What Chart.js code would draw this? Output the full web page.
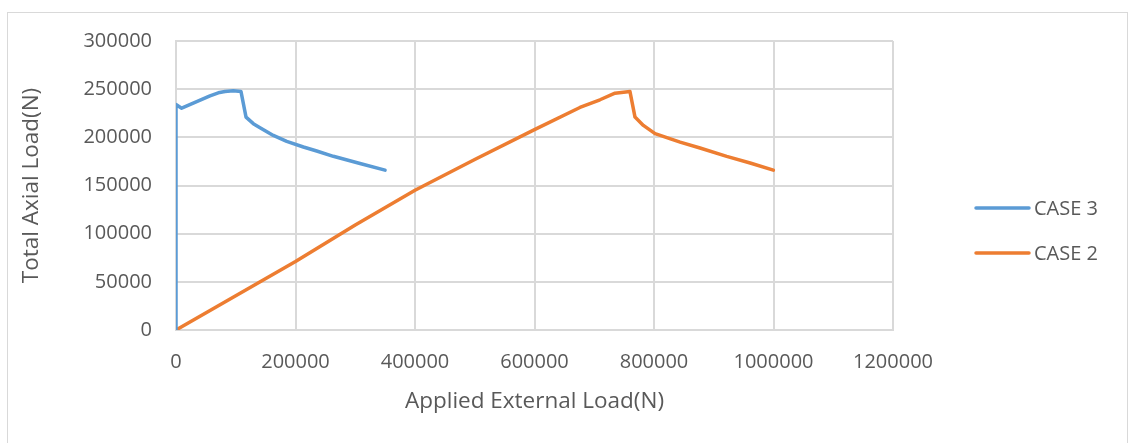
<!DOCTYPE html>
<html>
<head>
<meta charset="utf-8">
<script src="https://cdn.jsdelivr.net/npm/chart.js@4/dist/chart.umd.min.js"></script>
<style>
  html, body { margin: 0; padding: 0; background: #ffffff; }
  #wrap { width: 1130px; height: 443px; }
</style>
</head>
<body>
<div id="wrap"><canvas id="c" width="1130" height="443"></canvas></div>
<script>
// Applied external load (N) and total axial load (N) for each case
const case3Applied = [0, 0, 9500, 56900, 70800, 82000, 95900, 108800, 117200, 129400, 140600, 162900, 185300, 213200, 235500, 263300, 308000, 349800];
const case3Axial   = [0, 234000, 230300, 243100, 246200, 247500, 248300, 247500, 221000, 214200, 210000, 202000, 195800, 190000, 185800, 180300, 172800, 165900];

const case2Applied = [0, 200000, 300000, 400000, 500000, 600000, 676000, 709600, 734700, 759800, 768200, 782200, 801800, 843700, 877000, 921700, 960900, 999700];
const case2Axial   = [0, 71000, 109000, 145000, 177000, 208000, 231000, 239000, 245800, 247500, 221000, 212400, 203800, 195100, 188900, 180300, 173400, 165900];

const seriesNames = ['CASE 3', 'CASE 2'];
const seriesColors = ['#5b9bd5', '#ed7d31'];

const xTitle = 'Applied External Load(N)';
const yTitle = 'Total Axial Load(N)';
const xMax = 1200000, xStep = 200000;
const yMax = 300000, yStep = 50000;

const FONT = "'Open Sans', 'Liberation Sans', sans-serif";
const TEXT = '#595959';
const GRID = '#d9d9d9';

function pairs(xs, ys) { return xs.map((x, i) => ({ x: x, y: ys[i] })); }

// Outer frame of the chart
const framePlugin = {
  id: 'frame',
  beforeDraw(chart) {
    const ctx = chart.ctx;
    ctx.save();
    ctx.fillStyle = '#ffffff';
    ctx.fillRect(0, 0, chart.width, chart.height);
    ctx.strokeStyle = GRID;
    ctx.lineWidth = 1;
    ctx.strokeRect(7.5, 12.5, 1120, 450);
    ctx.restore();
  }
};

// Legend on the right: a line sample followed by the series name
const sideLegend = {
  id: 'sideLegend',
  afterDraw(chart) {
    const ctx = chart.ctx;
    const area = chart.chartArea;
    const x0 = area.right + 83;
    const y0 = 208;
    const gap = 45;
    ctx.save();
    chart.data.datasets.forEach((ds, i) => {
      const y = y0 + i * gap;
      ctx.strokeStyle = ds.borderColor;
      ctx.lineWidth = 3.5;
      ctx.lineCap = 'round';
      ctx.beginPath();
      ctx.moveTo(x0, y);
      ctx.lineTo(x0 + 53, y);
      ctx.stroke();
      ctx.fillStyle = TEXT;
      ctx.font = '20px ' + FONT;
      ctx.textBaseline = 'middle';
      ctx.textAlign = 'left';
      ctx.fillText(ds.label, x0 + 58, y + 1);
    });
    ctx.restore();
  }
};

new Chart(document.getElementById('c'), {
  type: 'scatter',
  data: {
    datasets: [
      {
        label: seriesNames[0],
        data: pairs(case3Applied, case3Axial),
        borderColor: seriesColors[0],
        backgroundColor: seriesColors[0],
        borderWidth: 3.5,
        showLine: true,
        pointRadius: 0,
        tension: 0,
        borderJoinStyle: 'round',
        borderCapStyle: 'round'
      },
      {
        label: seriesNames[1],
        data: pairs(case2Applied, case2Axial),
        borderColor: seriesColors[1],
        backgroundColor: seriesColors[1],
        borderWidth: 3.5,
        showLine: true,
        pointRadius: 0,
        tension: 0,
        borderJoinStyle: 'round',
        borderCapStyle: 'round'
      }
    ]
  },
  options: {
    responsive: false,
    animation: false,
    devicePixelRatio: 1,
    layout: { padding: { left: 0, top: 41, right: 237, bottom: 0 } },
    plugins: {
      legend: { display: false },
      tooltip: { enabled: false }
    },
    scales: {
      x: {
        type: 'linear',
        min: 0,
        max: xMax,
        afterFit(s) { s.height = 113; },
        ticks: {
          stepSize: xStep,
          padding: 20,
          maxRotation: 0,
          color: TEXT,
          font: { family: FONT, size: 20 },
          callback: v => String(v)
        },
        grid: { color: GRID, lineWidth: 2, drawTicks: false },
        border: { color: GRID, width: 2 },
        title: {
          display: true,
          text: xTitle,
          color: TEXT,
          font: { family: FONT, size: 22.5 },
          padding: { top: 0, bottom: 27.5 }
        }
      },
      y: {
        type: 'linear',
        min: 0,
        max: yMax,
        afterFit(s) { s.width = 176; },
        ticks: {
          stepSize: yStep,
          padding: 24,
          color: TEXT,
          font: { family: FONT, size: 20 },
          callback: v => String(v)
        },
        grid: { color: GRID, lineWidth: 2, drawTicks: false },
        border: { color: GRID, width: 2 },
        title: {
          display: true,
          text: yTitle,
          color: TEXT,
          font: { family: FONT, size: 22.5 },
          padding: { top: 18.5, bottom: 0 }
        }
      }
    }
  },
  plugins: [framePlugin, sideLegend]
});
</script>
</body>
</html>
